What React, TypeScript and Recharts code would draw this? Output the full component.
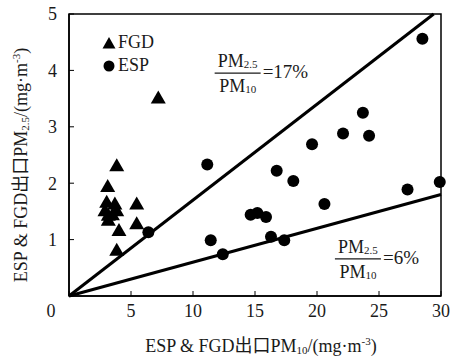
import React from "react";
import {
  ScatterChart,
  Scatter,
  XAxis,
  YAxis,
  ReferenceLine,
  ReferenceArea,
  ReferenceDot,
  Legend,
} from "recharts";

const FONT = "'Liberation Serif', 'Times New Roman', 'Noto Sans CJK SC', serif";
const INK = "#1a1a1a";

// FGD outlet (triangles)
const fgdPm10 = [7.2, 3.85, 3.12, 5.46, 3.04, 3.7, 2.9, 3.85, 3.17, 3.5, 3.17, 4.03, 5.46, 3.85];
const fgdPm25 = [3.52, 2.32, 1.95, 1.64, 1.67, 1.64, 1.52, 1.52, 1.44, 1.45, 1.35, 1.17, 1.29, 0.82];

// ESP outlet (circles)
const espPm10 = [6.4, 11.15, 11.43, 12.4, 14.65, 15.19, 15.89, 16.29, 16.75, 17.36, 18.09, 19.6, 20.6, 22.1, 23.7, 24.2, 27.3, 28.5, 29.9];
const espPm25 = [1.13, 2.33, 0.99, 0.74, 1.44, 1.47, 1.4, 1.05, 2.22, 0.99, 2.04, 2.69, 1.63, 2.88, 3.25, 2.84, 1.89, 4.56, 2.02];

// ratio lines PM2.5/PM10
const line17 = [{ x: 0, y: 0 }, { x: 29.41, y: 5 }];
const line6 = [{ x: 0, y: 0 }, { x: 30, y: 1.8 }];

const xTicks = [0, 5, 10, 15, 20, 25, 30];
const yTicks = [1, 2, 3, 4, 5];

const fgdData = fgdPm10.map((x, i) => ({ x, y: fgdPm25[i] }));
const espData = espPm10.map((x, i) => ({ x, y: espPm25[i] }));

const Triangle = ({ cx, cy }: any) => (
  <polygon
    points={`${cx},${cy - 7} ${cx + 7.5},${cy + 6} ${cx - 7.5},${cy + 6}`}
    fill="#000"
  />
);

const Dot = ({ cx, cy }: any) => <circle cx={cx} cy={cy} r={6} fill="#000" />;

const XTick = ({ x, y, payload }: any) => (
  <text
    x={payload.value === 0 ? x - 18 : x}
    y={y}
    dy="0.71em"
    textAnchor="middle"
    fontSize={18}
    fill={INK}
    fontFamily={FONT}
  >
    {payload.value}
  </text>
);

const Fraction = ({ cx, cy, value }: any) => (
  <g fontFamily={FONT} fill={INK}>
    <text x={cx} y={cy - 6} textAnchor="middle" fontSize={18}>
      PM<tspan fontSize={11} dy={1}>2.5</tspan>
    </text>
    <line x1={cx - 23} x2={cx + 23} y1={cy} y2={cy} stroke={INK} strokeWidth={1.2} />
    <text x={cx} y={cy + 19} textAnchor="middle" fontSize={18}>
      PM<tspan fontSize={11} dy={1}>10</tspan>
    </text>
    <text x={cx + 25} y={cy + 5} fontSize={19}>
      ={value}%
    </text>
  </g>
);

const XTitle = ({ viewBox }: any) => (
  <text
    x={viewBox.x + viewBox.width / 2 + 6}
    y={viewBox.y + 56}
    textAnchor="middle"
    fontSize={18}
    fill={INK}
    fontFamily={FONT}
  >
    ESP &amp; FGD出口PM<tspan fontSize={11} dy={2}>10</tspan>
    <tspan dy={-2}>/(mg·m</tspan>
    <tspan fontSize={11} dy={-7}>-3</tspan>
    <tspan dy={7}>)</tspan>
  </text>
);

const YTitle = ({ viewBox }: any) => {
  const cx = 27;
  const cy = viewBox.y + viewBox.height / 2 + 10;
  return (
    <text
      x={cx}
      y={cy}
      transform={`rotate(-90, ${cx}, ${cy})`}
      textAnchor="middle"
      fontSize={18}
      fill={INK}
      fontFamily={FONT}
    >
      ESP &amp; FGD出口PM<tspan fontSize={11} dy={2}>2.5</tspan>
      <tspan dy={-2}>/(mg·m</tspan>
      <tspan fontSize={11} dy={-7}>-3</tspan>
      <tspan dy={7}>)</tspan>
    </text>
  );
};

const legendItems = [
  { name: "FGD", marker: "triangle" },
  { name: "ESP", marker: "circle" },
];

const LegendBox = () => (
  <div
    style={{
      position: "absolute",
      left: 101,
      top: 31,
      fontFamily: FONT,
      fontSize: 18,
      color: INK,
      whiteSpace: "nowrap",
    }}
  >
    {legendItems.map((it) => (
      <div key={it.name} style={{ display: "flex", alignItems: "center", height: 23 }}>
        <svg width={16} height={16}>
          {it.marker === "triangle" ? (
            <polygon points="8,2 14.5,13.5 1.5,13.5" fill="#000" />
          ) : (
            <circle cx={8} cy={8} r={5.5} fill="#000" />
          )}
        </svg>
        <span style={{ marginLeft: 1 }}>{it.name}</span>
      </div>
    ))}
  </div>
);

export default function App() {
  return (
    <div style={{ position: "absolute", left: 0, top: 0, background: "#fff" }}>
      <ScatterChart
        width={450}
        height={359}
        margin={{ top: 14, right: 9, bottom: 3, left: 0 }}
      >
        <XAxis
          type="number"
          dataKey="x"
          domain={[0, 30]}
          ticks={xTicks}
          interval={0}
          height={60}
          tickSize={-5}
          tickMargin={13}
          axisLine={{ stroke: "#000", strokeWidth: 1.5 }}
          tickLine={{ stroke: "#000" }}
          tick={<XTick />}
          label={{ content: (p: any) => <XTitle viewBox={p.viewBox} /> }}
        />
        <YAxis
          type="number"
          dataKey="y"
          domain={[0, 5]}
          ticks={yTicks}
          interval={0}
          width={69}
          tickSize={-5}
          tickMargin={17}
          axisLine={{ stroke: "#000", strokeWidth: 1.5 }}
          tickLine={{ stroke: "#000" }}
          tick={{ fill: INK, fontSize: 18, fontFamily: FONT }}
          label={{ content: (p: any) => <YTitle viewBox={p.viewBox} /> }}
        />
        <ReferenceArea
          x1={0}
          x2={30}
          y1={0}
          y2={5}
          fill="none"
          fillOpacity={0}
          stroke="#000"
          strokeWidth={1.5}
        />
        <ReferenceLine segment={line17} stroke="#000" strokeWidth={3} ifOverflow="visible" />
        <ReferenceLine segment={line6} stroke="#000" strokeWidth={3} ifOverflow="visible" />
        <Scatter name="FGD" data={fgdData} shape={<Triangle />} isAnimationActive={false} />
        <Scatter name="ESP" data={espData} shape={<Dot />} isAnimationActive={false} />
        <ReferenceDot
          x={13.6}
          y={3.95}
          r={0}
          shape={(p: any) => <Fraction cx={p.cx} cy={p.cy} value={17} />}
        />
        <ReferenceDot
          x={23.3}
          y={0.66}
          r={0}
          shape={(p: any) => <Fraction cx={p.cx} cy={p.cy} value={6} />}
        />
        <Legend
          content={() => <LegendBox />}
          wrapperStyle={{ left: 0, top: 0, width: 0, height: 0 }}
        />
      </ScatterChart>
    </div>
  );
}
